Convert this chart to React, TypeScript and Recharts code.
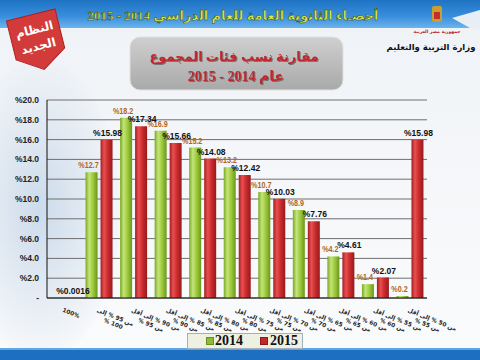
import React from 'react';
import { BarChart, Bar, XAxis, YAxis, CartesianGrid, LabelList } from 'recharts';

const categories = [
  '100%',
  'من 95 % إلى|100 %',
  'من 90 % إلى أقل|من 95 %',
  'من 85 % إلى أقل|من 90 %',
  'من 80 % إلى أقل|من 85 %',
  'من 75 % إلى أقل|من 80 %',
  'من 70 % إلى أقل|من 75 %',
  'من 65 % إلى أقل|من 70 %',
  'من 60 % إلى أقل|من 65 %',
  'من 55 % إلى أقل|من 60 %',
  'من 50 % إلى أقل|من 55 %',
];
const values2014: (number | null)[] = [null, 12.7, 18.2, 16.9, 15.2, 13.2, 10.7, 8.9, 4.2, 1.4, 0.2];
const values2015: (number | null)[] = [0.0016, 15.98, 17.34, 15.66, 14.08, 12.42, 10.03, 7.76, 4.61, 2.07, 15.98];
const yTicks = [0, 2, 4, 6, 8, 10, 12, 14, 16, 18, 20];
const seriesNames = ['2014', '2015'];

const data = categories.map((c, i) => ({ cat: c, y2014: values2014[i], y2015: values2015[i] }));

const ar = "'Liberation Serif', 'DejaVu Sans', serif";
const RLM = '\u200F';

const XTick = (props: any) => {
  const { x, y, payload } = props;
  const parts = String(payload.value).split('|');
  return (
    <g transform={`translate(${x},${y})`}>
      <g transform="rotate(22)">
        <text x={0} y={6} textAnchor="start" fontSize={5.8} fontWeight="bold" fontFamily="'DejaVu Sans', Arial, sans-serif" fill="#222">
          {RLM + parts[0] + RLM}
        </text>
        {parts[1] ? (
          <text x={10} y={13} textAnchor="start" fontSize={5.8} fontWeight="bold" fontFamily="'DejaVu Sans', Arial, sans-serif" fill="#222">
            {RLM + parts[1] + RLM}
          </text>
        ) : null}
      </g>
    </g>
  );
};

const makeLabel = (color: string, size: number, weight: string, dx: number, sx: number) => (p: any) => {
  const { x, y, width, value } = p;
  if (value === null || value === undefined) return null;
  const cx = Number(x) + Number(width) / 2 + dx;
  const cy = Number(y) - 4;
  return (
    <text
      transform={`translate(${cx},${cy}) scale(${sx},1)`}
      x={0}
      y={0}
      textAnchor="middle"
      fontSize={size}
      fontWeight={weight}
      fontFamily="'Liberation Sans', Arial, sans-serif"
      fill={color}
    >
      {'%' + String(value)}
    </text>
  );
};

export default function App() {
  return (
    <div
      style={{
        position: 'absolute',
        left: 0,
        top: 0,
        width: 480,
        height: 360,
        overflow: 'hidden',
        background: 'linear-gradient(to bottom, #eef2f6 0%, #f4f6f9 40%, #fafbfc 100%)',
        fontFamily: ar,
      }}
    >
      <div style={{ position: 'absolute', left: -40, top: 60, width: 160, height: 300, borderRadius: '50%', background: 'radial-gradient(ellipse at center, rgba(170,195,222,0.55) 0%, rgba(200,215,232,0.3) 50%, rgba(255,255,255,0) 75%)' }} />
      <div style={{ position: 'absolute', left: 0, top: 0, width: 480, height: 28, background: 'linear-gradient(to bottom, #1f73c4 0%, #3a8fdc 60%, #6cb4ec 100%)' }} />
      <svg style={{ position: 'absolute', left: 0, top: 0 }} width={480} height={360}>
        <defs>
          <linearGradient id="boxg" x1="0" y1="0" x2="0" y2="1">
            <stop offset="0" stopColor="#cfcfcf" />
            <stop offset="1" stopColor="#a9a9a9" />
          </linearGradient>
          <filter id="sh" x="-5%" y="-5%" width="110%" height="120%">
            <feDropShadow dx="1" dy="1" stdDeviation="0.6" floodColor="#555" floodOpacity="0.7" />
          </filter>
        </defs>
        <polygon points="452,18 480,10 480,30 470,28" fill="#e8eef5" />
        <polygon points="0,349 480,349 480,360 0,360" fill="#1d6fc2" />
        <rect x={0} y={348} width={480} height={2} fill="#5ea6e6" />
        <g transform="rotate(-14 38 40)">
          <polygon points="12,14 62,14 62,54 37,70 12,54" fill="#d33a3a" stroke="#b02020" strokeWidth={1} />
          <text x={37} y={33} textAnchor="middle" fill="#fff" fontSize={12} fontWeight="bold" fontFamily="'DejaVu Sans', sans-serif">النظام</text>
          <text x={37} y={50} textAnchor="middle" fill="#fff" fontSize={12} fontWeight="bold" fontFamily="'DejaVu Sans', sans-serif">الجديد</text>
        </g>
        <g>
          <rect x={432} y={6} width={10} height={16} fill="#c9a030" rx={2} />
          <rect x={434} y={12} width={6} height={7} fill="#c03030" />
          <text x={437} y={33} textAnchor="middle" fill="#c02020" fontSize={4.5} fontWeight="bold" fontFamily="'DejaVu Sans', sans-serif">جمهورية مصر العربية</text>
          <text x={431} y={50} textAnchor="middle" fill="#111" fontSize={8.5} fontWeight="bold" fontFamily="'DejaVu Sans', sans-serif">وزارة التربية والتعليم</text>
        </g>
        <rect x={130} y={37} width={213} height={53} rx={10} fill="url(#boxg)" stroke="#e0e0e0" strokeWidth={1} />
        <text x={234} y={61} textAnchor="middle" fill="#c0282d" fontSize={13} fontWeight="bold" fontFamily={ar} filter="url(#sh)">مقارنة  نسب فئات المجموع</text>
        <text x={236} y={81} textAnchor="middle" fill="#c0282d" fontSize={14} fontWeight="bold" fontFamily={ar} filter="url(#sh)">{RLM + 'عام 2014  - 2015' + RLM}</text>
        <text x={233} y={20} textAnchor="middle" fill="#d7ea56" stroke="#3a4a10" strokeWidth={0.5} fontSize={13} fontWeight="bold" fontFamily={ar}>{RLM + 'أحصـاء الثانوية العامة للعام الدراسي 2014 - 2015' + RLM}</text>
      </svg>

      <div style={{ position: 'absolute', left: 0, top: 0 }}>
        <BarChart
          width={480}
          height={360}
          data={data}
          margin={{ top: 100, right: 53, left: 7, bottom: 12 }}
          barGap={3}
        >
          <defs>
            <linearGradient id="gGreen" x1="0" y1="0" x2="1" y2="0">
              <stop offset="0" stopColor="#7aa824" />
              <stop offset="0.3" stopColor="#c4e47a" />
              <stop offset="0.6" stopColor="#9fcc3e" />
              <stop offset="1" stopColor="#6b961c" />
            </linearGradient>
            <linearGradient id="gRed" x1="0" y1="0" x2="1" y2="0">
              <stop offset="0" stopColor="#a51e22" />
              <stop offset="0.3" stopColor="#e85050" />
              <stop offset="0.6" stopColor="#cc2c2e" />
              <stop offset="1" stopColor="#961a1c" />
            </linearGradient>
          </defs>
          <CartesianGrid vertical={false} stroke="#6e6e6e" strokeWidth={1} />
          <XAxis
            dataKey="cat"
            height={50}
            interval={0}
            tick={<XTick />}
            tickLine={false}
            axisLine={{ stroke: '#111' }}
          />
          <YAxis
            width={40}
            domain={[0, 20]}
            ticks={yTicks}
            interval={0}
            tickLine={false}
            axisLine={{ stroke: '#111' }}
            tick={{ fontSize: 8.5, fontWeight: 'bold', fill: '#222', fontFamily: "'Liberation Sans', Arial, sans-serif" }}
            tickFormatter={(v: number) => (v === 0 ? '-' : '%' + v.toFixed(1))}
          />
          <YAxis yAxisId="r" orientation="right" width={0} domain={[0, 20]} tick={false} tickLine={false} axisLine={{ stroke: '#8a8a8a', strokeWidth: 2 }} />
          <Bar dataKey="y2014" name={seriesNames[0]} fill="url(#gGreen)" barSize={12} isAnimationActive={false}>
            <LabelList dataKey="y2014" content={makeLabel('#b0651f', 9, 'bold', -3, 0.8)} />
          </Bar>
          <Bar dataKey="y2015" name={seriesNames[1]} fill="url(#gRed)" barSize={12} isAnimationActive={false}>
            <LabelList dataKey="y2015" content={makeLabel('#111', 8.5, 'bold', 1, 1)} />
          </Bar>
        </BarChart>
      </div>

      <div
        style={{
          position: 'absolute',
          left: 187,
          top: 333,
          width: 114,
          height: 14,
          background: '#eef0e2',
          border: '1px solid #9fb0bf',
          display: 'flex',
          alignItems: 'center',
          fontFamily: "'Liberation Serif', 'Times New Roman', serif",
          fontWeight: 'bold',
          fontSize: 14,
          lineHeight: '14px',
          color: '#111',
        }}
      >
        <span style={{ display: 'inline-block', width: 6, height: 6, background: '#8cbc36', border: '1px solid #6a8f20', marginLeft: 18, marginRight: 1 }} />
        <span>{seriesNames[0]}</span>
        <span style={{ display: 'inline-block', width: 6, height: 6, background: '#c0282d', border: '1px solid #8a1a1c', marginLeft: 17, marginRight: 2 }} />
        <span>{seriesNames[1]}</span>
      </div>
    </div>
  );
}
